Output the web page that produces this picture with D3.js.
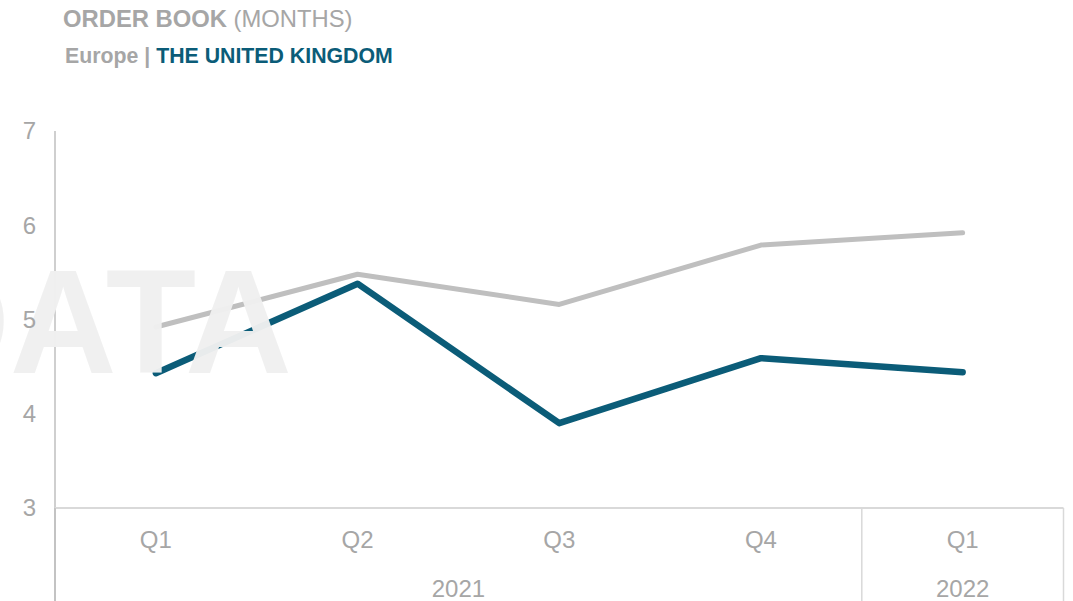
<!DOCTYPE html>
<html>
<head>
<meta charset="utf-8">
<script src="https://cdn.jsdelivr.net/npm/d3@7"></script>
<style>
  body { margin: 0; background: #fff; }
  svg text { font-family: Arial, "Liberation Sans", sans-serif; }
</style>
</head>
<body>
<svg id="chart" width="1073" height="601"></svg>
<script>
// chart data
var quarters = ["Q1", "Q2", "Q3", "Q4", "Q1"];
var years = ["2021", "2021", "2021", "2021", "2022"];
var europe = [4.92, 5.48, 5.16, 5.79, 5.92];
var uk = [4.43, 5.38, 3.90, 4.59, 4.44];
var yTicks = [3, 4, 5, 6, 7];

var GREY_TEXT = "#a6a6a6",
    BLUE = "#0b5c78",
    GREY_LINE = "#bfbfbf";

var svg = d3.select("#chart"),
    W = +svg.attr("width"),
    H = +svg.attr("height"),
    plot = {left: 55, right: 1063.5, top: 131, bottom: 508};

var x = d3.scaleBand().domain(d3.range(quarters.length)).range([plot.left, plot.right]).padding(0),
    y = d3.scaleLinear().domain([3, 7]).range([plot.bottom, plot.top]);

function cx(i) { return x(i) + x.bandwidth() / 2; }

// title
var t1 = svg.append("text").attr("x", 63).attr("y", 27)
    .style("font-size", "23.8px").attr("fill", GREY_TEXT);
t1.append("tspan").style("font-weight", "bold").text("ORDER BOOK");
t1.append("tspan").text(" (MONTHS)");

var t2 = svg.append("text").attr("x", 65).attr("y", 63)
    .style("font-size", "21.3px").style("font-weight", "bold");
t2.append("tspan").attr("fill", GREY_TEXT).text("Europe | ");
t2.append("tspan").attr("fill", BLUE).text("THE UNITED KINGDOM");

// y axis line
svg.append("line")
    .attr("x1", plot.left).attr("x2", plot.left)
    .attr("y1", plot.top).attr("y2", H)
    .attr("stroke", GREY_LINE).attr("stroke-width", 1.5);

// x axis with two levels
svg.append("line")
    .attr("x1", plot.left).attr("x2", plot.right)
    .attr("y1", plot.bottom).attr("y2", plot.bottom)
    .attr("stroke", "#d9d9d9").attr("stroke-width", 2);

svg.selectAll(".qlabel")
  .data(quarters)
  .enter().append("text")
    .attr("class", "qlabel")
    .attr("x", function(d, i) { return cx(i); })
    .attr("y", 548)
    .attr("text-anchor", "middle")
    .style("font-size", "24px")
    .attr("fill", GREY_TEXT)
    .text(function(d) { return d; });

// group consecutive years
var groups = [];
years.forEach(function(yr, i) {
  var g = groups[groups.length - 1];
  if (g && g.year === yr) g.end = i;
  else groups.push({year: yr, start: i, end: i});
});

var bounds = [plot.left].concat(groups.map(function(g) { return x(g.end) + x.bandwidth(); }));
svg.selectAll(".sep")
  .data(bounds)
  .enter().append("line")
    .attr("class", "sep")
    .attr("x1", function(d) { return d; }).attr("x2", function(d) { return d; })
    .attr("y1", plot.bottom).attr("y2", H)
    .attr("stroke", function(d, i) { return i === 0 ? GREY_LINE : "#d9d9d9"; })
    .attr("stroke-width", 1.5);

svg.selectAll(".ylabel")
  .data(groups)
  .enter().append("text")
    .attr("class", "ylabel")
    .attr("x", function(g) { return (x(g.start) + x(g.end) + x.bandwidth()) / 2; })
    .attr("y", 597)
    .attr("text-anchor", "middle")
    .style("font-size", "24px")
    .attr("fill", GREY_TEXT)
    .text(function(g) { return g.year; });

// lines
var line = d3.line()
    .x(function(d, i) { return cx(i); })
    .y(function(d) { return y(d); });

svg.append("path")
    .datum(europe)
    .attr("d", line)
    .attr("fill", "none")
    .attr("stroke", GREY_LINE)
    .attr("stroke-width", 5)
    .attr("stroke-linecap", "round")
    .attr("stroke-linejoin", "round");

svg.append("path")
    .datum(uk)
    .attr("d", line)
    .attr("fill", "none")
    .attr("stroke", BLUE)
    .attr("stroke-width", 6.5)
    .attr("stroke-linecap", "round")
    .attr("stroke-linejoin", "round");

// watermark over the lines
svg.append("text")
    .attr("x", 292)
    .attr("y", 373)
    .attr("text-anchor", "end")
    .style("font-size", "148px")
    .style("font-weight", "bold")
    .attr("fill", "#f0f0f0")
    .attr("fill-opacity", 0.97)
    .text("DATA");

// y tick labels stay readable above the watermark
svg.selectAll(".ytick")
  .data(yTicks)
  .enter().append("text")
    .attr("class", "ytick")
    .attr("x", 36)
    .attr("y", function(d) { return y(d); })
    .attr("dy", "0.35em")
    .attr("text-anchor", "end")
    .style("font-size", "24px")
    .attr("fill", GREY_TEXT)
    .text(function(d) { return d; });
</script>
</body>
</html>
